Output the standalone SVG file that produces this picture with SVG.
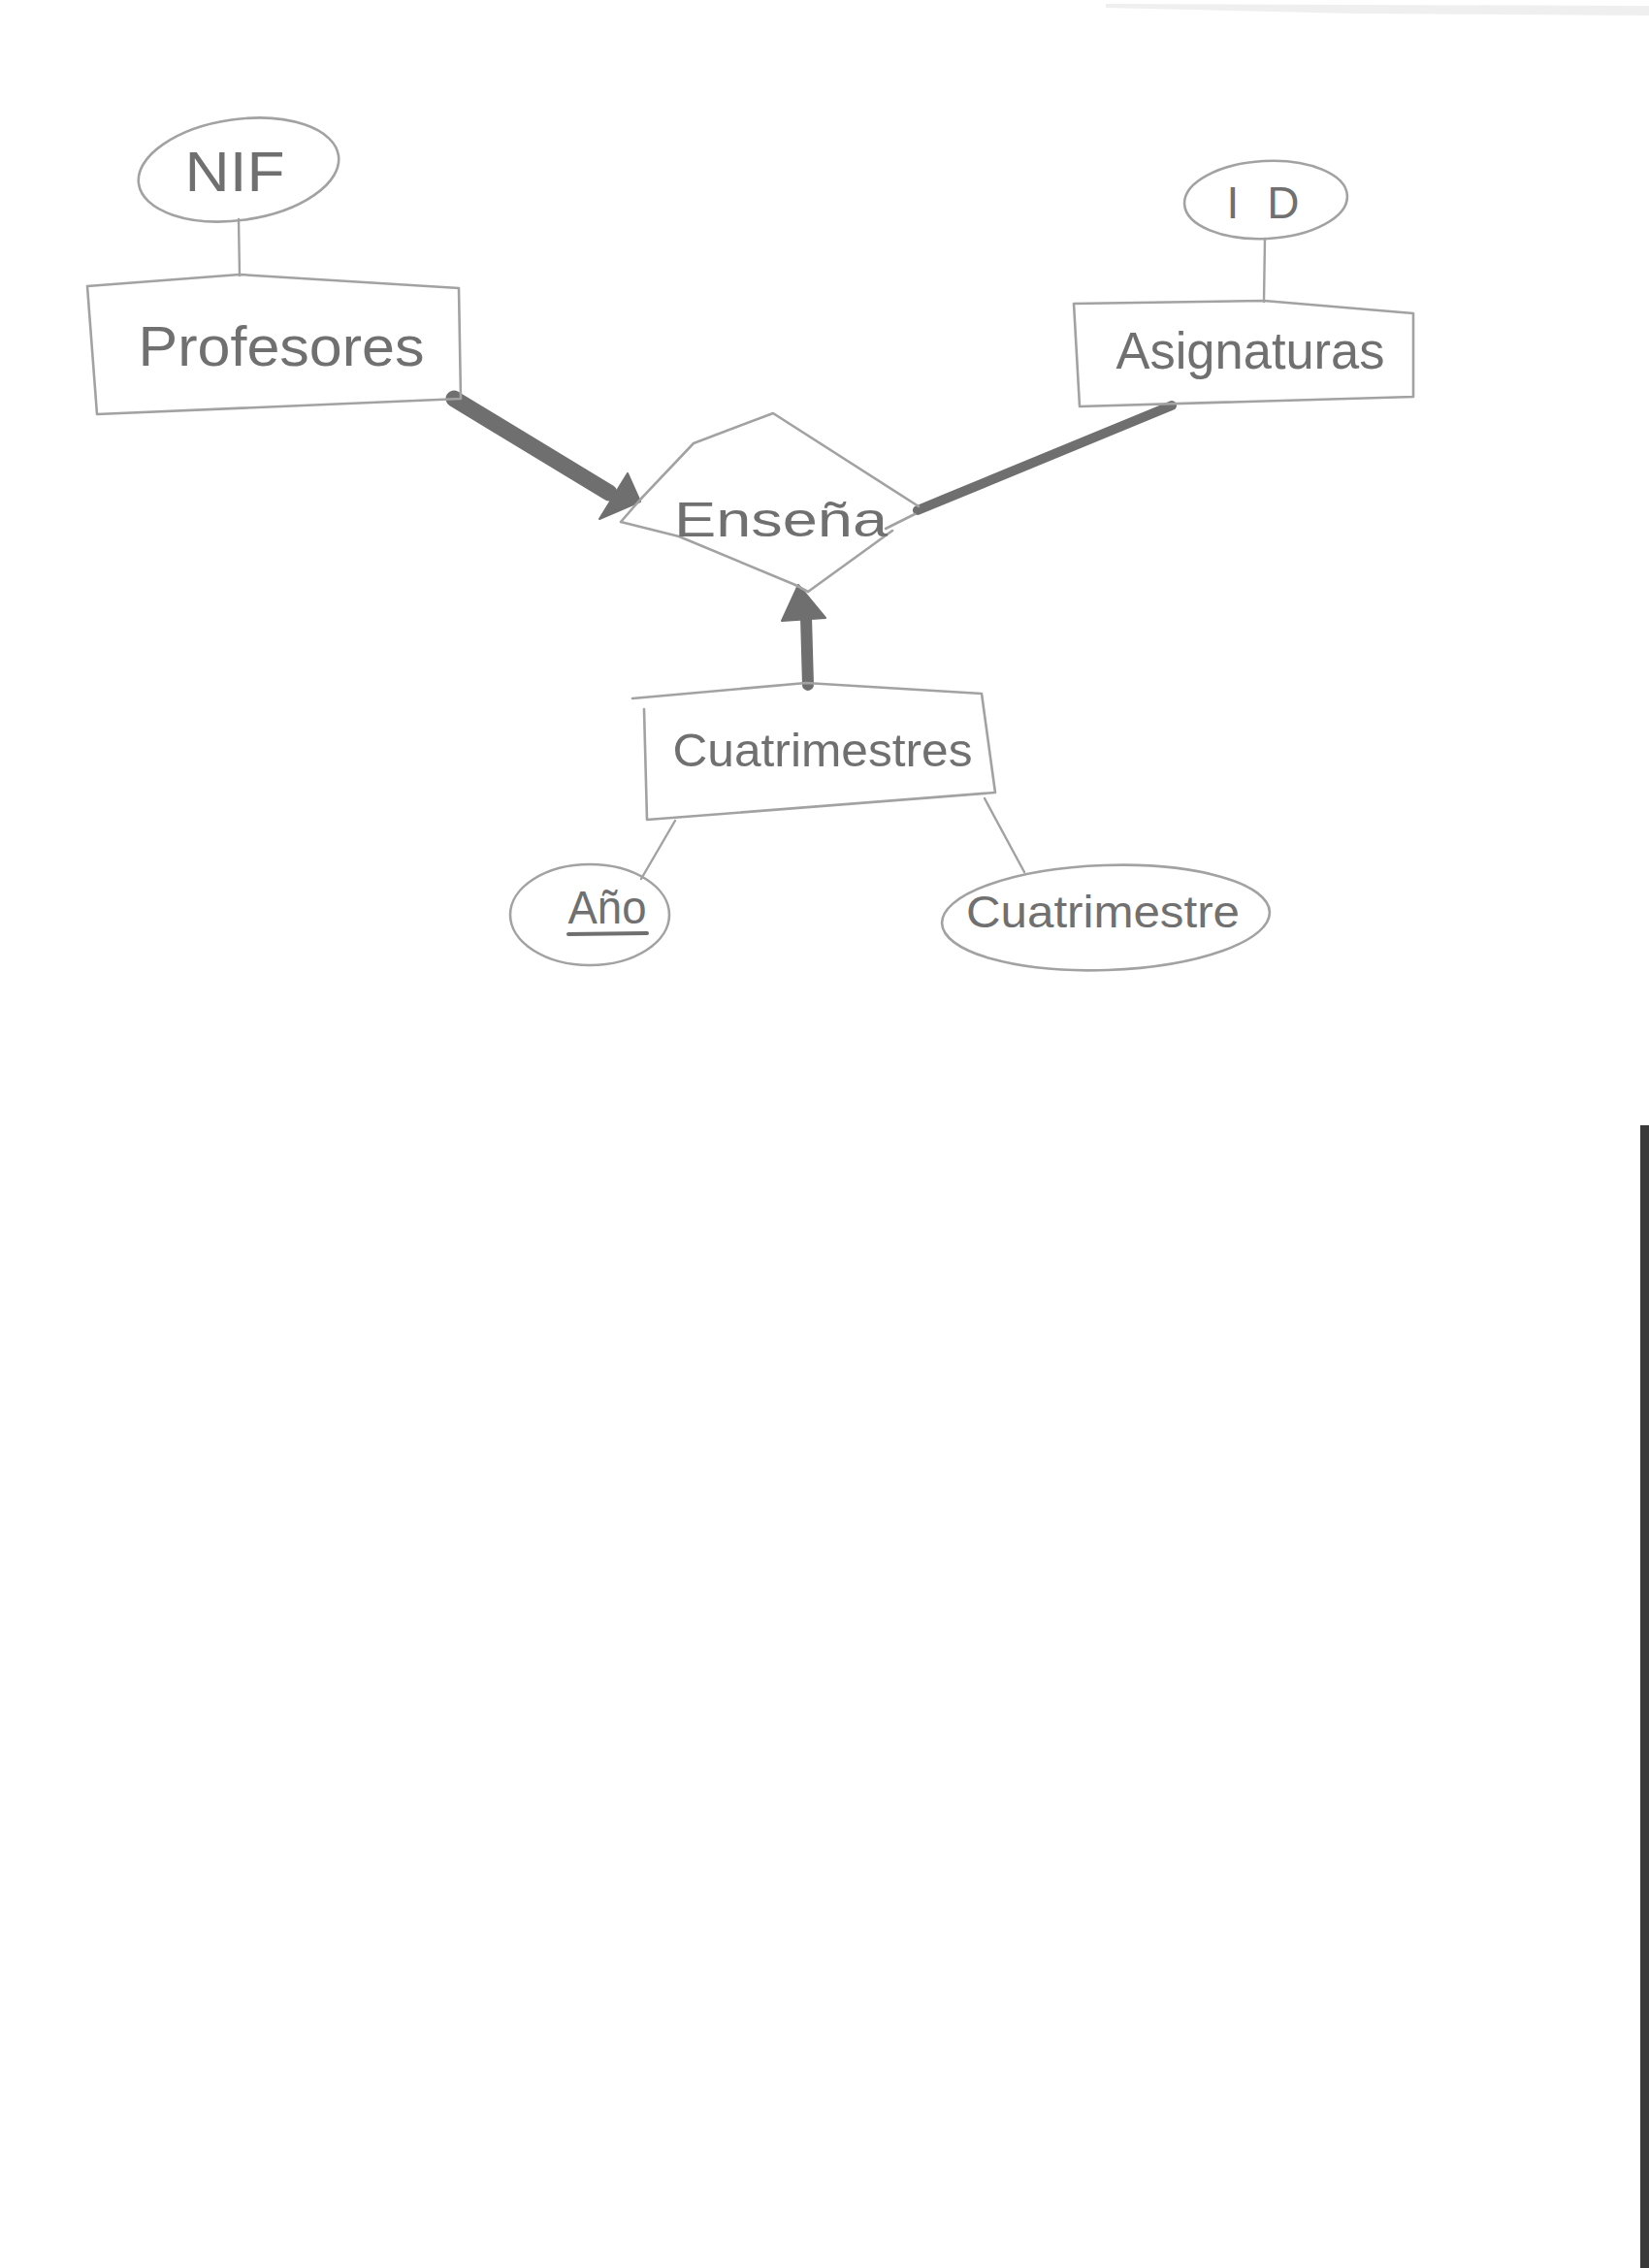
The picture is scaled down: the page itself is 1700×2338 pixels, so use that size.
<svg xmlns="http://www.w3.org/2000/svg" width="1700" height="2338" viewBox="0 0 1700 2338">
<style>
.shape{fill:none;stroke:#a2a2a2;stroke-width:2.6;stroke-linejoin:round;stroke-linecap:round}
.lbl{font-family:"Liberation Sans","DejaVu Sans",sans-serif;fill:#707070;text-anchor:middle}
.thin{fill:none;stroke:#a2a2a2;stroke-width:2.4;stroke-linecap:round}
.thick{fill:none;stroke:#6f6f6f;stroke-linecap:round}
.head{fill:#6f6f6f;stroke:#6f6f6f;stroke-width:2;stroke-linejoin:round}
</style>
<rect x="0" y="0" width="1700" height="2338" fill="#ffffff"/>
<path d="M1140,4 L1700,6 L1700,16 L1400,14 L1140,8 Z" fill="#efefef"/>
<rect x="1691" y="1160" width="9" height="1178" fill="#3a3a3a"/>
<g id="connectors">
  <line class="thin" x1="246" y1="226" x2="247" y2="284"/>
  <line class="thin" x1="1304" y1="246" x2="1303" y2="311"/>
  <line class="thin" x1="696" y1="846" x2="661" y2="906"/>
  <line class="thin" x1="1015" y1="823" x2="1056" y2="899"/>
  <line class="thick" x1="468" y1="411" x2="628" y2="508" stroke-width="17"/>
  <polygon class="head" points="647,488 618,535 660,517"/>
  <line class="thick" x1="1208" y1="418" x2="946" y2="526" stroke-width="10"/>
  <line class="thick" x1="833" y1="706" x2="831" y2="636" stroke-width="12"/>
  <polygon class="head" points="806,640 851,637 823,603"/>
</g>
<g id="nif">
  <ellipse class="shape" cx="246" cy="175" rx="104" ry="52" transform="rotate(-8 246 175)"/>
  <text class="lbl" x="242" y="197" font-size="58" textLength="103" lengthAdjust="spacingAndGlyphs">NIF</text>
</g>
<g id="profesores">
  <path class="shape" d="M90,295 L247,283 L473,297 L475,411 L100,427 Z"/>
  <text class="lbl" x="290" y="377" font-size="58" textLength="295" lengthAdjust="spacingAndGlyphs">Profesores</text>
</g>
<g id="id">
  <ellipse class="shape" cx="1305" cy="206" rx="84" ry="40" transform="rotate(-3 1305 206)"/>
  <text class="lbl" x="1302" y="225" font-size="46" textLength="75" lengthAdjust="spacing">ID</text>
</g>
<g id="asignaturas">
  <path class="shape" d="M1107,313 L1303,310 L1457,323 L1457,409 L1113,419 Z"/>
  <text class="lbl" x="1289" y="380" font-size="54" textLength="277" lengthAdjust="spacingAndGlyphs">Asignaturas</text>
</g>
<g id="ensena">
  <path class="shape" d="M640,538 L660,515 L715,457 L797,426 L947,522 M943,530 L913,545 M920,547 L833,610 L820,603 L700,553 L640,538"/>
  <text class="lbl" x="805" y="553" font-size="50" textLength="220" lengthAdjust="spacingAndGlyphs">Enseña</text>
</g>
<g id="cuatrimestres">
  <path class="shape" d="M652,720 L831,704 L1012,715 L1026,817 L667,845 L664,731"/>
  <text class="lbl" x="848" y="790" font-size="48" textLength="309" lengthAdjust="spacingAndGlyphs">Cuatrimestres</text>
</g>
<g id="anio">
  <ellipse class="shape" cx="608" cy="943" rx="82" ry="52"/>
  <text class="lbl" x="626" y="952" font-size="48" textLength="81" lengthAdjust="spacingAndGlyphs">Año</text>
  <line x1="586" y1="963" x2="667" y2="962" stroke="#6f6f6f" stroke-width="4" stroke-linecap="round"/>
</g>
<g id="cuatrimestre">
  <ellipse class="shape" cx="1140" cy="946" rx="169" ry="54" transform="rotate(-2 1140 946)"/>
  <text class="lbl" x="1137" y="956" font-size="46" textLength="282" lengthAdjust="spacingAndGlyphs">Cuatrimestre</text>
</g>
</svg>
